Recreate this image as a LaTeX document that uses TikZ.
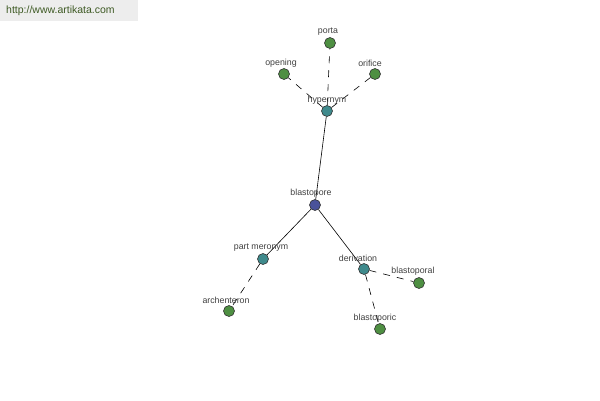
\documentclass[tikz,border=0pt]{standalone}
\usepackage{fontspec}
\setmainfont{Liberation Sans}
\definecolor{leafc}{HTML}{4E8F42}
\definecolor{midc}{HTML}{3F8A8C}
\definecolor{rootc}{HTML}{4A529A}
\definecolor{urlc}{HTML}{3E5A24}
\begin{document}
\begin{tikzpicture}[x=1pt,y=-1pt,
  dot/.style={circle,draw=black!80,line width=0.6pt,minimum size=11pt,inner sep=0pt},
  root/.style={dot,fill=rootc},
  mid/.style={dot,fill=midc},
  leaf/.style={dot,fill=leafc},
  lbl/.style={font=\fontsize{8.8}{10}\selectfont,text=black!75,inner sep=0pt},
  solidedge/.style={draw=black,line width=0.6pt},
  dashedge/.style={draw=black,line width=0.6pt,dash pattern=on 7pt off 7pt}]
\useasboundingbox (0,0) rectangle (600,400);
\fill[white] (0,0) rectangle (600,400);
\node[fill=black!7,minimum width=138pt,minimum height=21pt,anchor=north west,inner sep=0pt] (hdr) at (0,0) {};
\node[font=\fontsize{10.5}{12}\selectfont,text=urlc,anchor=west,inner sep=0pt] (url) at (6,11) {http://www.artikata.com};
% nodes
\node[root] (bp) at (315,205) {};
\node[mid] (hy) at (327,111) {};
\node[leaf] (po) at (330,43) {};
\node[leaf] (op) at (284,74) {};
\node[leaf] (or) at (375,74) {};
\node[mid] (pm) at (263,259) {};
\node[leaf] (ar) at (229,311) {};
\node[mid] (de) at (364,269) {};
\node[leaf] (bl) at (419,283) {};
\node[leaf] (bc) at (380,329) {};
% edges
\path[solidedge] (bp) -- (hy);
\path[solidedge] (bp) -- (pm);
\path[solidedge] (bp) -- (de);
\path[dashedge] (hy) -- (po);
\path[dashedge] (hy) -- (op);
\path[dashedge] (hy) -- (or);
\path[dashedge] (pm) -- (ar);
\path[dashedge] (de) -- (bl);
\path[dashedge] (de) -- (bc);
% labels
\node[lbl] (lbp) at (311,193) {blastopore};
\node[lbl] (lhy) at (327,100) {hypernym};
\node[lbl] (lpo) at (328,32) {porta};
\node[lbl] (lop) at (281,63) {opening};
\node[lbl] (lor) at (370,63) {orifice};
\node[lbl] (lpm) at (261,248) {part meronym};
\node[lbl] (lar) at (226,300) {archenteron};
\node[lbl] (lde) at (358,258) {derivation};
\node[lbl] (lbl) at (413,271) {blastoporal};
\node[lbl] (lbc) at (375,318) {blastoporic};
\end{tikzpicture}
\end{document}
